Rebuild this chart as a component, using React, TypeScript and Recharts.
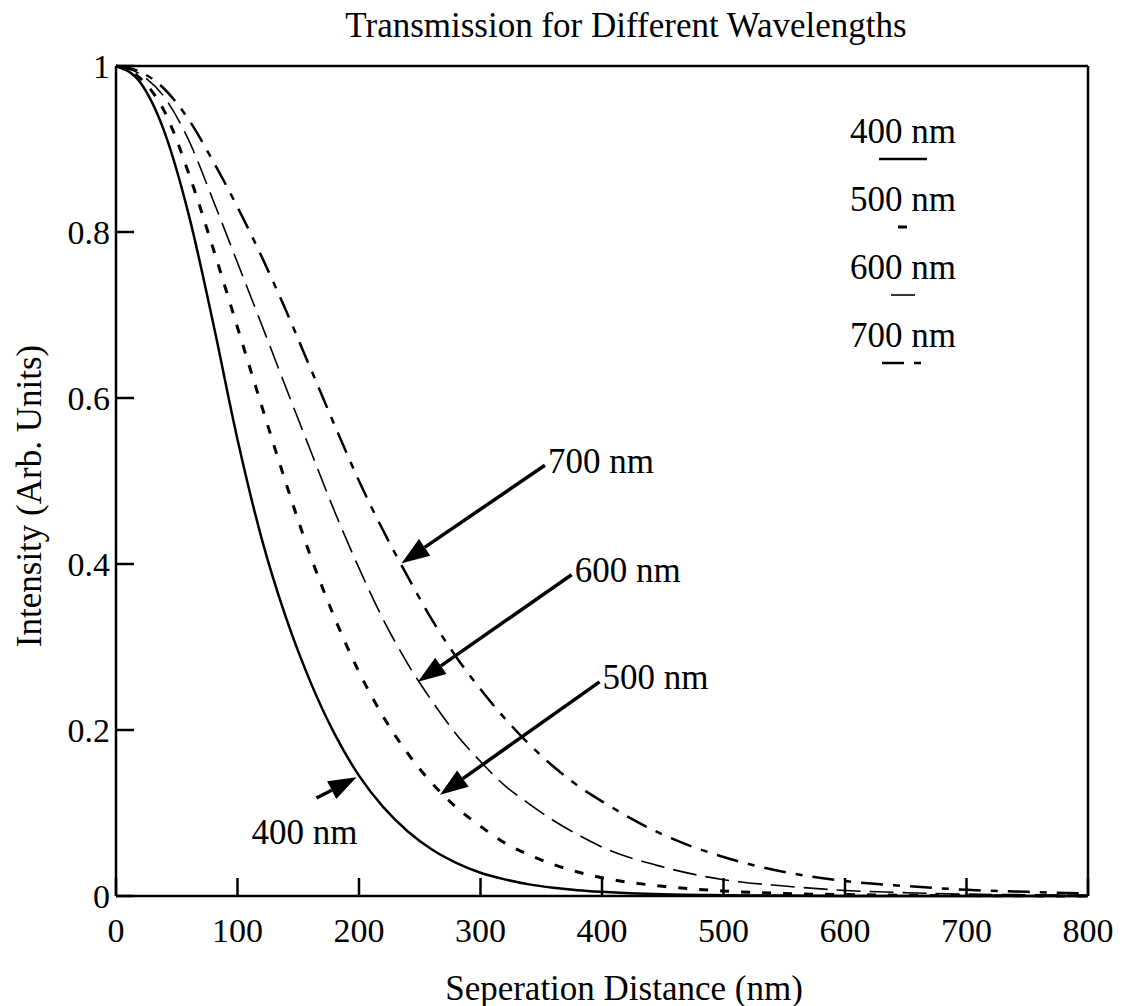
import React from 'react';
import { LineChart, Line, XAxis, YAxis, ReferenceLine, Legend, Label } from 'recharts';

// separation distance (nm) and read-off intensities for each wavelength
const distance = [0, 20, 40, 60, 80, 100, 120, 140, 160, 180, 200, 220, 240, 260, 280, 300, 320, 340, 360, 380, 400, 450, 500, 550, 600, 650, 700, 750, 800];
const i400 = [1, 0.98, 0.92, 0.82, 0.69, 0.55, 0.43, 0.335, 0.258, 0.195, 0.145, 0.107, 0.078, 0.056, 0.04, 0.028, 0.02, 0.014, 0.01, 0.007, 0.005, 0.002, 0.001, 0.0005, 0, 0, 0, 0, 0];
const i500 = [1, 0.985, 0.945, 0.87, 0.78, 0.685, 0.59, 0.497, 0.41, 0.335, 0.27, 0.216, 0.172, 0.136, 0.107, 0.084, 0.064, 0.0495, 0.038, 0.029, 0.022, 0.0117, 0.006, 0.003, 0.0017, 0.0009, 0.0005, 0.0002, 0];
const i600 = [1, 0.99, 0.962, 0.91, 0.838, 0.763, 0.688, 0.612, 0.537, 0.463, 0.395, 0.333, 0.28, 0.235, 0.195, 0.162, 0.133, 0.111, 0.091, 0.074, 0.059, 0.035, 0.0196, 0.012, 0.0067, 0.004, 0.0023, 0.0015, 0.0009];
const i700 = [1, 0.993, 0.972, 0.935, 0.885, 0.83, 0.77, 0.705, 0.636, 0.567, 0.5, 0.44, 0.385, 0.333, 0.288, 0.249, 0.214, 0.183, 0.156, 0.133, 0.114, 0.074, 0.047, 0.029, 0.018, 0.012, 0.0075, 0.005, 0.003];

const xTicks = [0, 100, 200, 300, 400, 500, 600, 700, 800];
const yTicks = [0, 0.2, 0.4, 0.6, 0.8, 1];

const seriesKeys = ['s400', 's500', 's600', 's700'];
const seriesNames = ['400 nm', '500 nm', '600 nm', '700 nm'];

// arrow annotations: tail (label end) -> tip on the curve, in data units
const arrowLabels = ['700 nm', '600 nm', '500 nm', '400 nm'];
const arrowFrom = [[353, 0.519], [375, 0.387], [398, 0.258], [165, 0.118]];
const arrowTo = [[235, 0.401], [248.5, 0.258], [266.7, 0.122], [198, 0.143]];

const data = distance.map((d, i) => ({ d, s400: i400[i], s500: i500[i], s600: i600[i], s700: i700[i] }));

const FONT = '"Liberation Serif", "Times New Roman", serif';
const FS = 35;

const lineStyle: Record<string, { dash?: string; width: number; sample: number }> = {
  s400: { dash: undefined, width: 2.5, sample: 48 },
  s500: { dash: '9 12', width: 3, sample: 10 },
  s600: { dash: '24 9', width: 1.6, sample: 25 },
  s700: { dash: '22 10 7 10', width: 2.5, sample: 43 },
};

const makeArrow = (label: string, below: boolean) => (props: any) => {
  const { x1, y1, x2, y2 } = props;
  if (x1 == null) return <g />;
  const len = Math.hypot(x2 - x1, y2 - y1);
  const ux = (x2 - x1) / len;
  const uy = (y2 - y1) / len;
  const bx = x2 - ux * 28;
  const by = y2 - uy * 28;
  const nx = -uy * 10;
  const ny = ux * 10;
  return (
    <g>
      <line x1={x1} y1={y1} x2={bx} y2={by} stroke="#000" strokeWidth={3.5} />
      <polygon points={`${x2},${y2} ${bx + nx},${by + ny} ${bx - nx},${by - ny}`} fill="#000" />
      {below ? (
        <text x={x1 - 12} y={y1 + 34} textAnchor="middle" dominantBaseline="central" fontFamily={FONT} fontSize={FS} fill="#000">
          {label}
        </text>
      ) : (
        <text x={x1 + 3} y={y1 - 4} textAnchor="start" dominantBaseline="central" fontFamily={FONT} fontSize={FS} fill="#000">
          {label}
        </text>
      )}
    </g>
  );
};

const renderLegend = () => (
  <div style={{ fontFamily: FONT, fontSize: FS, color: '#000', textAlign: 'center' }}>
    {seriesKeys.map((k, i) => {
      const st = lineStyle[k];
      return (
        <div key={k} style={{ height: 68 }}>
          <div style={{ lineHeight: '38px' }}>{seriesNames[i]}</div>
          <svg width={st.sample} height={8} style={{ display: 'block', margin: '4px auto 0' }}>
            <line x1={0} y1={4} x2={st.sample} y2={4} stroke="#000" strokeWidth={st.width} strokeDasharray={st.dash} />
          </svg>
        </div>
      );
    })}
  </div>
);

const renderXLabel = (p: any) => {
  const vb = p.viewBox;
  const cx = vb.x + vb.width / 2 + 22;
  const cy = vb.y + 92;
  return (
    <text x={cx} y={cy} textAnchor="middle" dominantBaseline="central" fontFamily={FONT} fontSize={FS} fill="#000">
      Seperation Distance (nm)
    </text>
  );
};

const renderYLabel = (p: any) => {
  const vb = p.viewBox;
  const cx = vb.x - 86;
  const cy = vb.y + vb.height / 2 + 15;
  return (
    <text x={cx} y={cy} transform={`rotate(-90 ${cx} ${cy})`} textAnchor="middle" dominantBaseline="central" fontFamily={FONT} fontSize={FS} fill="#000">
      Intensity (Arb. Units)
    </text>
  );
};

const axisStroke = { stroke: '#000', strokeWidth: 2.5 };
const tickFont = { fontSize: 34, fill: '#000', fontFamily: FONT };

export default function App() {
  return (
    <div style={{ position: 'absolute', left: 0, top: 0, width: 1128, height: 1006, background: '#fff' }}>
      <div style={{ position: 'absolute', left: 0, width: 1252, top: 8, textAlign: 'center', fontFamily: FONT, fontSize: FS, lineHeight: '36px', color: '#000' }}>
        Transmission for Different Wavelengths
      </div>
      <LineChart width={1128} height={1006} data={data} margin={{ top: 65, right: 39, bottom: 109, left: 115 }}>
        <XAxis
          dataKey="d"
          type="number"
          domain={[0, 800]}
          ticks={xTicks}
          height={1}
          tickSize={-18}
          tickMargin={40}
          axisLine={axisStroke}
          tickLine={axisStroke}
          tick={tickFont}
          interval={0}
        >
          <Label content={renderXLabel} />
        </XAxis>
        <XAxis
          xAxisId="top"
          dataKey="d"
          type="number"
          orientation="top"
          domain={[0, 800]}
          ticks={xTicks}
          height={1}
          tickSize={-18}
          axisLine={axisStroke}
          tickLine={axisStroke}
          tick={false}
          interval={0}
        />
        <YAxis
          type="number"
          domain={[0, 1]}
          ticks={yTicks}
          width={1}
          tickSize={-18}
          tickMargin={24}
          axisLine={axisStroke}
          tickLine={axisStroke}
          tick={tickFont}
          interval={0}
        >
          <Label content={renderYLabel} />
        </YAxis>
        <YAxis
          yAxisId="right"
          type="number"
          orientation="right"
          domain={[0, 1]}
          ticks={yTicks}
          width={1}
          tickSize={-18}
          axisLine={axisStroke}
          tickLine={axisStroke}
          tick={false}
          interval={0}
        />
        <Legend
          layout="vertical"
          align="center"
          verticalAlign="middle"
          content={renderLegend}
          wrapperStyle={{ left: 830, top: 113, width: 146 }}
        />
        {seriesKeys.map((k, i) => (
          <Line
            key={k}
            dataKey={k}
            name={seriesNames[i]}
            type="monotone"
            stroke="#000"
            strokeWidth={lineStyle[k].width}
            strokeDasharray={lineStyle[k].dash}
            dot={false}
            activeDot={false}
            isAnimationActive={false}
          />
        ))}
        {arrowLabels.map((lab, i) => (
          <ReferenceLine
            key={lab}
            segment={[
              { x: arrowFrom[i][0], y: arrowFrom[i][1] },
              { x: arrowTo[i][0], y: arrowTo[i][1] },
            ]}
            shape={makeArrow(lab, lab === '400 nm')}
          />
        ))}
      </LineChart>
    </div>
  );
}
